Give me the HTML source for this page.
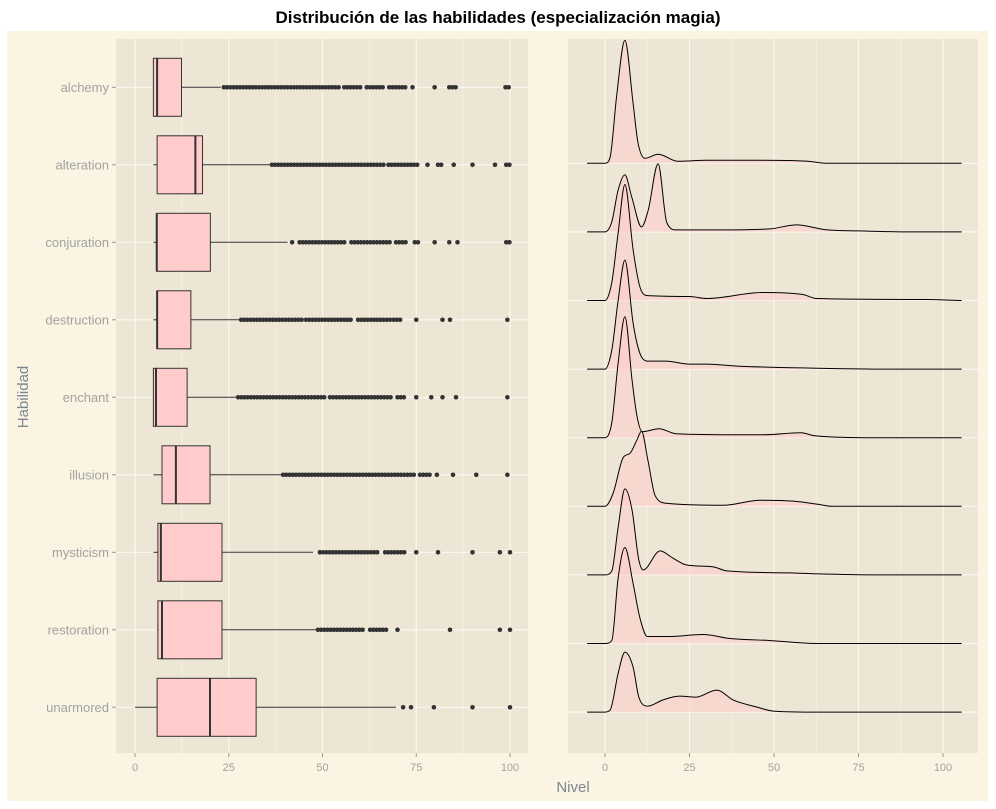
<!DOCTYPE html>
<html><head><meta charset="utf-8"><style>
html,body{margin:0;padding:0;background:#fff;}
svg{display:block;font-family:"Liberation Sans",sans-serif;}
</style></head><body>
<svg id="chart" width="996" height="809" viewBox="0 0 996 809" xmlns="http://www.w3.org/2000/svg">
<rect x="7" y="31" width="981" height="770" fill="#fbf4e2"/>
<text x="498" y="23" text-anchor="middle" font-size="17" font-weight="bold" fill="#000">Distribución de las habilidades (especialización magia)</text>
<rect x="116" y="39" width="412" height="714" fill="#ede6d5"/>
<rect x="568" y="39" width="410" height="714" fill="#ede6d5"/>
<g id="left"></g>
<g id="right"></g>
<text x="573" y="792" text-anchor="middle" font-size="15" fill="#7d8791">Nivel</text>
<text transform="translate(28,397) rotate(-90)" text-anchor="middle" font-size="15" fill="#7d8791">Habilidad</text>
</svg>
<script>
const skills=["alchemy","alteration","conjuration","destruction","enchant","illusion","mysticism","restoration","unarmored"];
const xTicks=[0,25,50,75,100];
// boxplot stats: [lowerWhisker, q1, median, q3, upperWhisker]
const boxStats=[
[4.9,4.9,5.9,12.4,22.9],
[4.9,5.9,16.1,18.0,35.9],
[4.9,5.8,5.8,20.1,40.7],
[4.9,5.9,5.9,14.9,27.7],
[4.9,4.9,5.6,13.9,27.0],
[4.9,7.2,10.9,20.0,39.0],
[4.9,6.1,6.9,23.2,47.5],
[5.9,6.1,7.2,23.2,48.5],
[0,5.9,20.0,32.3,69.6]];
// outlier runs [from,to] (dense clusters of points)
const outlierRuns=[
[[23.7,54.4],[55.8,60.4],[61.8,66.4],[67.8,72.2],[74,74],[79.9,79.9],[83.8,86.1],[98.8,100]],
[[36.5,66.4],[67.6,76],[78,78],[80.8,82],[85,85],[90,90],[96,96],[99,100]],
[[41.9,41.9],[43.9,56.3],[57.7,68.2],[69.6,72.3],[74.6,76],[79.9,79.9],[83.8,83.8],[86,86],[99,100]],
[[28.3,44.5],[45.6,57.9],[59.5,68],[69,71],[75,75],[82,82],[84,84],[99.3,100]],
[[27.5,50.7],[52,68.8],[70,72],[75,75],[79,79],[82,82],[85.6,85.6],[99.3,100]],
[[39.5,74.7],[76,79],[80.5,80.5],[84.8,84.8],[91,91],[99.3,100]],
[[49.3,65.3],[66.7,72],[75,75],[80.8,80.8],[90,90],[97.3,97.3],[100,100]],
[[48.8,61.3],[62.7,67.2],[70,70],[84,84],[97.3,97.3],[100,100]],
[[71.5,71.5],[73.6,73.6],[79.7,79.7],[90,90],[100,100]]];
// density curves: x levels and densities (x1000)
const densX={
alchemy:[-5.3,0,1.5,3.4,5.9,8.3,9.8,11.8,15.7,21.6,30,45,60,65.7,105.5],
alteration:[-5.3,0,2,3.9,5.9,7.9,10.8,12.8,15.7,18.3,21.2,35,48.8,56.7,65.7,75,90,105.5],
conjuration:[-5.3,0,2,3.9,5.9,8.3,10.3,12.3,25,30,46.7,58.5,62.6,95,105.5],
destruction:[-5.3,0,2,3.9,5.9,8.3,10.3,12.5,18,25,30,39,61,84,105.5],
enchant:[-5.3,0,2,3.9,5.9,8,9.5,11,16,21,40,47,58,62,80,105.5],
illusion:[-5.3,0,2.4,5.4,7.4,9.4,10.8,12.7,14.8,18.2,35,46,56,63,67,105.5],
mysticism:[-5.3,0,2,3.9,5.9,8,10,11.3,16.3,20,24,32,36,55,63,80,105.5],
restoration:[-5.3,0,2,3.9,5.9,8.3,10.3,12.5,19,29,37,48.6,62.6,105.5],
unarmored:[-5.3,0,1.5,3.9,5.9,8.3,10,12.7,17,22,27,33,38,45,49.8,63,105.5]};
const densY={
alchemy:[0,0,6,66,123,60,20,5,9,2,3,3,2,0,0],
alteration:[0,0,10,42,57,35,5,22,68,9,2,2,3,7,2,1,0,0],
conjuration:[0,0,18,68,116,51,14,5,4,2,8,6,2,1,0],
destruction:[0,0,19,69,109,46,16,8,8,5,5,3,1,0,0],
enchant:[0,0,15,75,121,58,21,6,9,4,3,3,5,2,0,0],
illusion:[0,0,13,49,53,66,75,46,11,3,1,6,5,2,0,0],
mysticism:[0,0,4,48,86,65,15,5,24,17,10,8,4,2,1,0,0],
restoration:[0,0,3,66,96,60,26,7,7,9,5,3,0,0],
unarmored:[0,0,2,39,60,45,15,6,12,16,15,22,12,5,1,0,0]};

const NS="http://www.w3.org/2000/svg";
function mk(tag,attrs,parent){const e=document.createElementNS(NS,tag);for(const k in attrs)e.setAttribute(k,attrs[k]);parent.appendChild(e);return e;}
const L=document.getElementById('left'),R=document.getElementById('right');
const xL=v=>135+v*3.75, xR=v=>605+v*3.38;
const rowY=i=>87.3+i*77.5;
const baseY=i=>163.3+i*68.6;
const dScale=1.0;

for(let i=0;i<xTicks.length;i++){
  const t=xTicks[i];
  if(i<xTicks.length-1){const m=mk('line',{x1:xL(t+12.5),x2:xL(t+12.5),y1:39,y2:753,stroke:'#f6f1e6','stroke-width':0.8},L);
  }
  const g=mk('line',{x1:xL(t),x2:xL(t),y1:39,y2:753,stroke:'#fbf8f0','stroke-width':1.2},L);
  
  const tk=mk('line',{x1:xL(t),x2:xL(t),y1:753,y2:757,stroke:'#999','stroke-width':1},L);
  
  const tx=mk('text',{x:xL(t),y:771,'text-anchor':'middle','font-size':11,fill:'#9fa3a0'},L);tx.textContent=t;
  
}
skills.forEach((s,i)=>{
  const y=rowY(i);
  const g=mk('line',{x1:116,x2:528,y1:y,y2:y,stroke:'#fbf8f0','stroke-width':1.2},L);
  
  const tk=mk('line',{x1:112,x2:116,y1:y,y2:y,stroke:'#999','stroke-width':1},L);
  
  const lb=mk('text',{x:109,y:y+4.5,'text-anchor':'end','font-size':13,fill:'#a0a3a0'},L);lb.textContent=s;
  
  const b=boxStats[i];
  const w1=mk('line',{x1:xL(b[0]),x2:xL(b[1]),y1:y,y2:y,stroke:'#333','stroke-width':1},L);
  
  const w2=mk('line',{x1:xL(b[3]),x2:xL(b[4]),y1:y,y2:y,stroke:'#333','stroke-width':1},L);
  
  const bx=mk('rect',{x:xL(b[1]),y:y-29,width:xL(b[3])-xL(b[1]),height:58,fill:'#ffcccb',stroke:'#333','stroke-width':1},L);
  
  const md=mk('line',{x1:xL(b[2]),x2:xL(b[2]),y1:y-29,y2:y+29,stroke:'#333','stroke-width':2},L);
  
  outlierRuns[i].forEach(r=>{
    for(let v=r[0];v<=r[1]+0.001;v+=0.85){
      const c=mk('circle',{cx:xL(v),cy:y,r:2.3,fill:'#333'},L);
      
    }
  });
});
for(let i=0;i<xTicks.length;i++){
  const t=xTicks[i];
  if(i<xTicks.length-1){const m=mk('line',{x1:xR(t+12.5),x2:xR(t+12.5),y1:39,y2:753,stroke:'#f6f1e6','stroke-width':0.8},R);
  }
  const g=mk('line',{x1:xR(t),x2:xR(t),y1:39,y2:753,stroke:'#fbf8f0','stroke-width':1.2},R);
  
  const tk=mk('line',{x1:xR(t),x2:xR(t),y1:753,y2:757,stroke:'#999','stroke-width':1},R);
  
  const tx=mk('text',{x:xR(t),y:771,'text-anchor':'middle','font-size':11,fill:'#9fa3a0'},R);tx.textContent=t;
  
}
skills.forEach((s,i)=>{const y=baseY(i);
  const g=mk('line',{x1:568,x2:978,y1:y,y2:y,stroke:'#fbf8f0','stroke-width':1.2},R);
  });
// monotone cubic (Fritsch-Carlson) path
function monoPath(pts){
  const n=pts.length,dx=[],m=[],t=[];
  for(let i=0;i<n-1;i++){dx.push(pts[i+1][0]-pts[i][0]);m.push((pts[i+1][1]-pts[i][1])/dx[i]);}
  t[0]=m[0];t[n-1]=m[n-2];
  for(let i=1;i<n-1;i++){t[i]=(m[i-1]*m[i]<=0)?0:(m[i-1]+m[i])/2;}
  for(let i=0;i<n-1;i++){
    if(m[i]===0){t[i]=0;t[i+1]=0;continue;}
    const a=t[i]/m[i],b=t[i+1]/m[i],h=a*a+b*b;
    if(h>9){const k=3/Math.sqrt(h);t[i]=k*a*m[i];t[i+1]=k*b*m[i];}
  }
  let d='M'+pts[0][0].toFixed(1)+','+pts[0][1].toFixed(1);
  for(let i=0;i<n-1;i++){
    const h=dx[i]/3;
    d+=' C'+(pts[i][0]+h).toFixed(1)+','+(pts[i][1]+t[i]*h).toFixed(1)+' '+(pts[i+1][0]-h).toFixed(1)+','+(pts[i+1][1]-t[i+1]*h).toFixed(1)+' '+pts[i+1][0].toFixed(1)+','+pts[i+1][1].toFixed(1);
  }
  return d;
}
skills.forEach((s,i)=>{
  const by=baseY(i);
  const pts=densX[s].map((x,k)=>[xR(x),by-densY[s][k]*dScale]);
  const d=monoPath(pts);
  const f=mk('path',{d:d+' L'+pts[pts.length-1][0]+','+by+' L'+pts[0][0]+','+by+' Z',fill:'#ffcccb','fill-opacity':0.55,stroke:'none'},R);
  
  const l=mk('path',{d:d,fill:'none',stroke:'#000','stroke-width':1},R);
  
});
</script>
</body></html>
